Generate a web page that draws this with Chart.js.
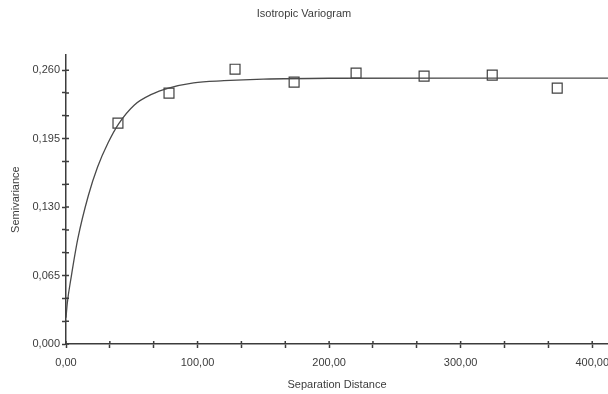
<!DOCTYPE html>
<html>
<head>
<meta charset="utf-8">
<script src="https://cdn.jsdelivr.net/npm/chart.js@4/dist/chart.umd.min.js"></script>
<style>
  html, body { margin: 0; padding: 0; background: #fff; }
  #wrap { width: 608px; height: 394px; position: relative; }
</style>
</head>
<body>
<div id="wrap"><canvas id="vario"></canvas></div>
<script>
// lag bins
const sepDist = [39.5, 78.3, 128.5, 173.4, 220.5, 272.2, 324.0, 373.4];
const semivar = [0.2097, 0.2382, 0.2609, 0.2486, 0.2572, 0.2543, 0.2553, 0.2429];

// fitted model curve
const modelDist = [0, 1, 4, 9, 17, 24, 32, 40, 52, 65, 78, 97, 120, 150, 200, 300, 412];
const modelGamma = [0.025, 0.039, 0.064, 0.100, 0.141, 0.168, 0.191, 0.209, 0.227, 0.237, 0.243, 0.248, 0.250, 0.2515, 0.2523, 0.2525, 0.2525];

const xStep = 100 / 3;
const yStep = 0.065 / 3;
const ink = '#3c3c3c';
const font = { family: 'Liberation Sans, Arial, sans-serif', size: 11, weight: 'normal' };

const onStep = step => v => Math.abs(v / step - Math.round(v / step)) < 1e-6;

// ticks that cross the axis line (inner half)
const innerTicks = {
  id: 'innerTicks',
  afterDatasetsDraw(chart) {
    const { ctx, chartArea, scales } = chart;
    ctx.save();
    ctx.strokeStyle = ink;
    ctx.lineWidth = 1.5;
    ctx.beginPath();
    scales.x.ticks.forEach((t, i) => {
      const px = scales.x.getPixelForTick(i);
      ctx.moveTo(px, chartArea.bottom);
      ctx.lineTo(px, chartArea.bottom - 3);
    });
    scales.y.ticks.forEach((t, i) => {
      const py = scales.y.getPixelForTick(i);
      ctx.moveTo(chartArea.left, py);
      ctx.lineTo(chartArea.left + 3, py);
    });
    ctx.stroke();
    ctx.restore();
  }
};

new Chart(document.getElementById('vario'), {
  type: 'scatter',
  data: {
    datasets: [
      {
        label: 'Model',
        data: modelDist.map((h, i) => ({ x: h, y: modelGamma[i] })),
        showLine: true,
        borderColor: '#4a4a4a',
        borderWidth: 1.3,
        pointRadius: 0,
        cubicInterpolationMode: 'monotone',
        fill: false,
      },
      {
        label: 'Semivariance',
        data: sepDist.map((h, i) => ({ x: h, y: semivar[i] })),
        pointStyle: 'rect',
        pointRadius: 7,
        borderWidth: 1.2,
        borderColor: '#404040',
        backgroundColor: 'rgba(0,0,0,0)',
      },
    ],
  },
  options: {
    responsive: true,
    maintainAspectRatio: false,
    animation: false,
    layout: { padding: 0, autoPadding: false },
    plugins: {
      legend: { display: false },
      tooltip: { enabled: false },
      title: {
        display: true,
        text: 'Isotropic Variogram',
        color: ink,
        font,
        padding: { top: 7, bottom: 35 },
      },
    },
    scales: {
      x: {
        type: 'linear',
        min: 0,
        max: 412,
        afterBuildTicks: s => { s.ticks = s.ticks.filter(t => onStep(xStep)(t.value)); },
        afterFit: s => { s.height = 50; s.paddingRight = 0; s.paddingLeft = 0; },
        ticks: {
          stepSize: xStep,
          includeBounds: false,
          autoSkip: false,
          maxRotation: 0,
          color: ink,
          font,
          padding: 8,
          callback: v => (Math.round(v / xStep) % 3 === 0 ? v.toFixed(2).replace('.', ',') : ''),
        },
        grid: { drawOnChartArea: false, tickLength: 4, tickWidth: 1.5, tickColor: ink },
        border: { color: ink, width: 1.5 },
        title: { display: true, text: 'Separation Distance', color: ink, font, padding: { top: 10, bottom: 2 } },
      },
      y: {
        type: 'linear',
        min: 0,
        max: 0.2742,
        afterBuildTicks: s => { s.ticks = s.ticks.filter(t => onStep(yStep)(t.value)); },
        afterFit: s => { s.width = 66; },
        ticks: {
          stepSize: yStep,
          includeBounds: false,
          autoSkip: false,
          color: ink,
          font,
          padding: 2,
          callback: v => (Math.round(v / yStep) % 3 === 0 ? v.toFixed(3).replace('.', ',') : ''),
        },
        grid: { drawOnChartArea: false, tickLength: 4, tickWidth: 1.5, tickColor: ink },
        border: { color: ink, width: 1.5 },
        title: { display: true, text: 'Semivariance', color: ink, font, padding: { top: 9 } },
      },
    },
  },
  plugins: [innerTicks],
});
</script>
</body>
</html>
